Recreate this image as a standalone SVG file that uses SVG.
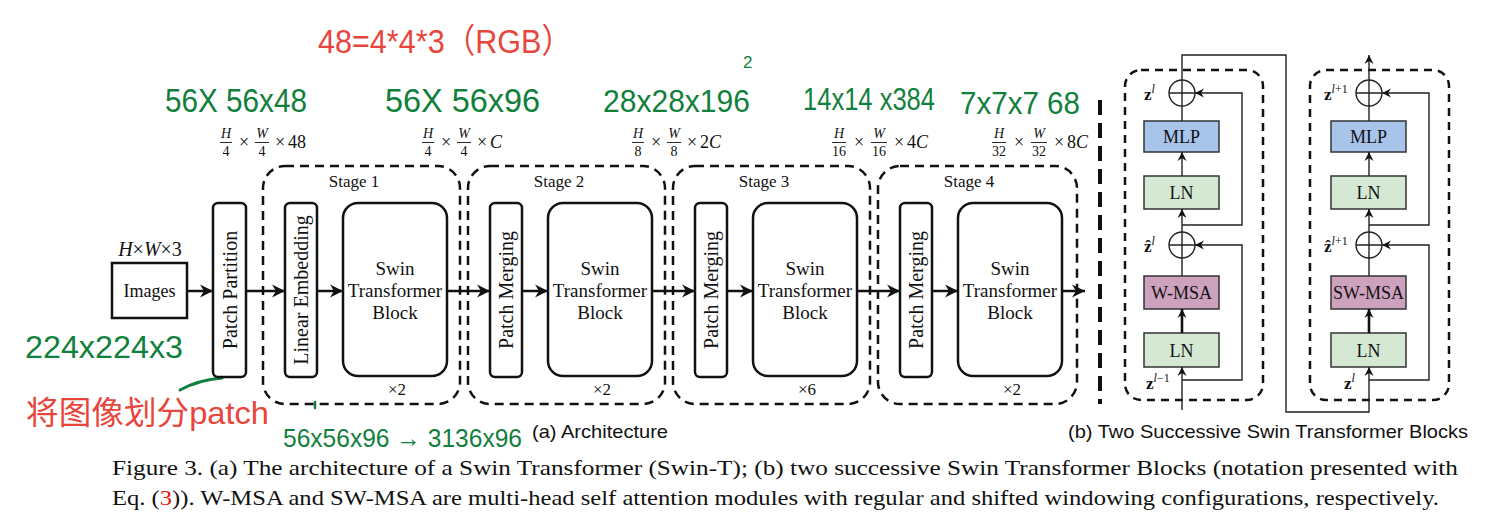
<svg xmlns="http://www.w3.org/2000/svg" width="1489" height="521" viewBox="0 0 1489 521">
<style>
.serif{font-family:"Liberation Serif","Times New Roman",serif;fill:#111}
.sans{font-family:"Liberation Sans",Arial,sans-serif;fill:#111}
.hw{font-family:"Liberation Sans",Arial,sans-serif;fill:#11803c}
.red{font-family:"Liberation Sans",Arial,"Noto Sans CJK SC",sans-serif;fill:#e8453c}
.box{fill:#fff;stroke:#111;stroke-width:2.5}
.stage{fill:none;stroke:#111;stroke-width:2.5;stroke-dasharray:9 6}
.blk{fill:none;stroke:#111;stroke-width:2.5;stroke-dasharray:8 6}
.ln{fill:#d5e8d4;stroke:#333;stroke-width:1.5}
.mlp{fill:#a9c4eb;stroke:#333;stroke-width:1.5}
.msa{fill:#cda2be;stroke:#333;stroke-width:1.5}
.big{fill:none;stroke:#111;stroke-width:2.5;marker-end:url(#ah)}
.thin{fill:none;stroke:#222;stroke-width:1.4}
.thinA{fill:none;stroke:#222;stroke-width:1.4;marker-end:url(#as)}
.thickA{fill:none;stroke:#111;stroke-width:2.6;marker-end:url(#as)}
.circ{fill:#fff;stroke:#222;stroke-width:1.4}
.t19{font-size:19px}
.t20{font-size:20px}
.fn{font-size:14px}
.fm{font-size:18px}
.fb{stroke:#111;stroke-width:0.9}
</style>
<defs>
<marker id="ah" markerUnits="userSpaceOnUse" viewBox="-13 -7 13 14" refX="0" refY="0" markerWidth="13" markerHeight="14" orient="auto">
<path d="M0,0 L-13,-6.5 L-9,0 L-13,6.5 Z" fill="#111"/>
</marker>
<marker id="as" markerUnits="userSpaceOnUse" viewBox="-9 -5 9 10" refX="0" refY="0" markerWidth="9" markerHeight="10" orient="auto">
<path d="M0,0 L-9,-4.5 L-6,0 L-9,4.5 Z" fill="#111"/>
</marker>
</defs>

<!-- annotations (red) -->
<text class="red" x="318" y="53" font-size="34" textLength="254" lengthAdjust="spacingAndGlyphs">48=4*4*3（RGB）</text>
<text class="red" x="26" y="424" font-size="32" textLength="243" lengthAdjust="spacingAndGlyphs">将图像划分patch</text>

<!-- handwritten annotations (green) -->
<g id="handwriting">
<text class="hw" x="165" y="112" font-size="33" textLength="142" lengthAdjust="spacingAndGlyphs">56X 56x48</text>
<text class="hw" x="385" y="112" font-size="33" textLength="155" lengthAdjust="spacingAndGlyphs">56X 56x96</text>
<text class="hw" x="603" y="112" font-size="31" textLength="147" lengthAdjust="spacingAndGlyphs">28x28x196</text>
<text class="hw" x="743" y="68" font-size="17">2</text>
<text class="hw" x="803" y="110" font-size="32" textLength="132" lengthAdjust="spacingAndGlyphs">14x14 x384</text>
<text class="hw" x="960" y="114" font-size="32" textLength="120" lengthAdjust="spacingAndGlyphs">7x7x7 68</text>
<text class="hw" x="25" y="358" font-size="31" textLength="158" lengthAdjust="spacingAndGlyphs">224x224x3</text>
<text class="hw" x="283" y="447" font-size="26" textLength="239" lengthAdjust="spacingAndGlyphs">56x56x96 → 3136x96</text>
<path d="M180,390 Q198,380 222,378" fill="none" stroke="#11803c" stroke-width="3" stroke-linecap="round"/>
<path d="M315,402 L315,408" fill="none" stroke="#11803c" stroke-width="2.5" stroke-linecap="round"/>
<circle cx="497" cy="345" r="1.3" fill="#11803c"/>
</g>

<!-- dimension labels -->
<g id="dims" class="serif">
<g transform="translate(226,0)">
<text class="fn" x="0" y="138" text-anchor="middle" font-style="italic">H</text>
<line class="fb" x1="-6" y1="142.5" x2="6" y2="142.5"/>
<text class="fn" x="0" y="156" text-anchor="middle">4</text>
<text class="fm" x="18" y="148" text-anchor="middle">×</text>
<text class="fn" x="36" y="138" text-anchor="middle" font-style="italic">W</text>
<line class="fb" x1="29" y1="142.5" x2="43" y2="142.5"/>
<text class="fn" x="36" y="156" text-anchor="middle">4</text>
<text class="fm" x="54" y="148" text-anchor="middle">×</text>
<text class="fm" x="62" y="148">48</text>
</g>
<g transform="translate(428,0)">
<text class="fn" x="0" y="138" text-anchor="middle" font-style="italic">H</text>
<line class="fb" x1="-6" y1="142.5" x2="6" y2="142.5"/>
<text class="fn" x="0" y="156" text-anchor="middle">4</text>
<text class="fm" x="18" y="148" text-anchor="middle">×</text>
<text class="fn" x="36" y="138" text-anchor="middle" font-style="italic">W</text>
<line class="fb" x1="29" y1="142.5" x2="43" y2="142.5"/>
<text class="fn" x="36" y="156" text-anchor="middle">4</text>
<text class="fm" x="54" y="148" text-anchor="middle">×</text>
<text class="fm" x="62" y="148" font-style="italic">C</text>
</g>
<g transform="translate(638,0)">
<text class="fn" x="0" y="138" text-anchor="middle" font-style="italic">H</text>
<line class="fb" x1="-6" y1="142.5" x2="6" y2="142.5"/>
<text class="fn" x="0" y="156" text-anchor="middle">8</text>
<text class="fm" x="18" y="148" text-anchor="middle">×</text>
<text class="fn" x="36" y="138" text-anchor="middle" font-style="italic">W</text>
<line class="fb" x1="29" y1="142.5" x2="43" y2="142.5"/>
<text class="fn" x="36" y="156" text-anchor="middle">8</text>
<text class="fm" x="54" y="148" text-anchor="middle">×</text>
<text class="fm" x="62" y="148">2<tspan font-style="italic">C</tspan></text>
</g>
<g transform="translate(839,0)">
<text class="fn" x="0" y="138" text-anchor="middle" font-style="italic">H</text>
<line class="fb" x1="-7" y1="142.5" x2="7" y2="142.5"/>
<text class="fn" x="0" y="156" text-anchor="middle">16</text>
<text class="fm" x="20" y="148" text-anchor="middle">×</text>
<text class="fn" x="40" y="138" text-anchor="middle" font-style="italic">W</text>
<line class="fb" x1="32" y1="142.5" x2="48" y2="142.5"/>
<text class="fn" x="40" y="156" text-anchor="middle">16</text>
<text class="fm" x="60" y="148" text-anchor="middle">×</text>
<text class="fm" x="68" y="148">4<tspan font-style="italic">C</tspan></text>
</g>
<g transform="translate(999,0)">
<text class="fn" x="0" y="138" text-anchor="middle" font-style="italic">H</text>
<line class="fb" x1="-7" y1="142.5" x2="7" y2="142.5"/>
<text class="fn" x="0" y="156" text-anchor="middle">32</text>
<text class="fm" x="20" y="148" text-anchor="middle">×</text>
<text class="fn" x="40" y="138" text-anchor="middle" font-style="italic">W</text>
<line class="fb" x1="32" y1="142.5" x2="48" y2="142.5"/>
<text class="fn" x="40" y="156" text-anchor="middle">32</text>
<text class="fm" x="60" y="148" text-anchor="middle">×</text>
<text class="fm" x="68" y="148">8<tspan font-style="italic">C</tspan></text>
</g>
</g>

<!-- nodes (a) -->
<g id="images">
<text class="serif" x="150" y="256" font-size="20" text-anchor="middle"><tspan font-style="italic">H</tspan>×<tspan font-style="italic">W</tspan>×3</text>
<rect class="box" x="112" y="263" width="75" height="55"/>
<text class="serif" x="149.5" y="297" font-size="18" text-anchor="middle">Images</text>
</g>
<g id="patch-partition">
<rect class="box" x="213" y="203" width="33" height="174" rx="5"/>
<text class="serif t20" transform="translate(230,290) rotate(-90)" text-anchor="middle" dy="0.33em">Patch Partition</text>
</g>

<g id="stage1">
<rect class="stage" x="263" y="166" width="197" height="238" rx="22"/>
<text class="serif" x="354" y="187" font-size="17" text-anchor="middle">Stage 1</text>
<text class="serif" x="397" y="395" font-size="17" text-anchor="middle">×2</text>
</g>
<g id="linear-embedding">
<rect class="box" x="285" y="203" width="32" height="174" rx="5"/>
<text class="serif t20" transform="translate(301,290) rotate(-90)" text-anchor="middle" dy="0.33em">Linear Embedding</text>
</g>
<g id="swin1">
<rect class="box" x="343" y="203" width="104" height="173" rx="15"/>
<text class="serif t19" x="395" y="275" text-anchor="middle">Swin</text>
<text class="serif t19" x="395" y="297" text-anchor="middle">Transformer</text>
<text class="serif t19" x="395" y="319" text-anchor="middle">Block</text>
</g>

<g id="stage2">
<rect class="stage" x="468" y="166" width="197" height="238" rx="22"/>
<text class="serif" x="559" y="187" font-size="17" text-anchor="middle">Stage 2</text>
<text class="serif" x="602" y="395" font-size="17" text-anchor="middle">×2</text>
</g>
<g id="patch-merging2">
<rect class="box" x="490" y="203" width="32" height="174" rx="5"/>
<text class="serif t20" transform="translate(506,290) rotate(-90)" text-anchor="middle" dy="0.33em">Patch Merging</text>
</g>
<g id="swin2">
<rect class="box" x="548" y="203" width="104" height="173" rx="15"/>
<text class="serif t19" x="600" y="275" text-anchor="middle">Swin</text>
<text class="serif t19" x="600" y="297" text-anchor="middle">Transformer</text>
<text class="serif t19" x="600" y="319" text-anchor="middle">Block</text>
</g>

<g id="stage3">
<rect class="stage" x="673" y="166" width="197" height="238" rx="22"/>
<text class="serif" x="764" y="187" font-size="17" text-anchor="middle">Stage 3</text>
<text class="serif" x="807" y="395" font-size="17" text-anchor="middle">×6</text>
</g>
<g id="patch-merging3">
<rect class="box" x="695" y="203" width="32" height="174" rx="5"/>
<text class="serif t20" transform="translate(711,290) rotate(-90)" text-anchor="middle" dy="0.33em">Patch Merging</text>
</g>
<g id="swin3">
<rect class="box" x="753" y="203" width="104" height="173" rx="15"/>
<text class="serif t19" x="805" y="275" text-anchor="middle">Swin</text>
<text class="serif t19" x="805" y="297" text-anchor="middle">Transformer</text>
<text class="serif t19" x="805" y="319" text-anchor="middle">Block</text>
</g>

<g id="stage4">
<rect class="stage" x="878" y="166" width="199" height="238" rx="22"/>
<text class="serif" x="969" y="187" font-size="17" text-anchor="middle">Stage 4</text>
<text class="serif" x="1012" y="395" font-size="17" text-anchor="middle">×2</text>
</g>
<g id="patch-merging4">
<rect class="box" x="900" y="203" width="32" height="174" rx="5"/>
<text class="serif t20" transform="translate(916,290) rotate(-90)" text-anchor="middle" dy="0.33em">Patch Merging</text>
</g>
<g id="swin4">
<rect class="box" x="958" y="203" width="104" height="173" rx="15"/>
<text class="serif t19" x="1010" y="275" text-anchor="middle">Swin</text>
<text class="serif t19" x="1010" y="297" text-anchor="middle">Transformer</text>
<text class="serif t19" x="1010" y="319" text-anchor="middle">Block</text>
</g>

<!-- separator -->
<line x1="1100" y1="100" x2="1100" y2="404" stroke="#111" stroke-width="4" stroke-dasharray="15 8"/>

<!-- (b) blocks -->
<g id="block1">
<rect class="blk" x="1125" y="70" width="138" height="330" rx="16"/>
<rect class="mlp" x="1144" y="121" width="75" height="31"/>
<text class="serif" x="1181.5" y="143" font-size="18" text-anchor="middle">MLP</text>
<rect class="ln" x="1144" y="176" width="75" height="33"/>
<text class="serif" x="1181.5" y="199" font-size="18" text-anchor="middle">LN</text>
<rect class="msa" x="1144" y="276" width="75" height="33"/>
<text class="serif" x="1181.5" y="299" font-size="18" text-anchor="middle">W-MSA</text>
<rect class="ln" x="1144" y="333" width="75" height="34"/>
<text class="serif" x="1181.5" y="357" font-size="18" text-anchor="middle">LN</text>
</g>
<g id="block2">
<rect class="blk" x="1310" y="70" width="139" height="330" rx="16"/>
<rect class="mlp" x="1331" y="121" width="75" height="31"/>
<text class="serif" x="1368.5" y="143" font-size="18" text-anchor="middle">MLP</text>
<rect class="ln" x="1331" y="176" width="75" height="33"/>
<text class="serif" x="1368.5" y="199" font-size="18" text-anchor="middle">LN</text>
<rect class="msa" x="1331" y="276" width="75" height="33"/>
<text class="serif" x="1368.5" y="299" font-size="18" text-anchor="middle">SW-MSA</text>
<rect class="ln" x="1331" y="333" width="75" height="34"/>
<text class="serif" x="1368.5" y="357" font-size="18" text-anchor="middle">LN</text>
</g>

<!-- connectors -->
<g id="connectors">
<line class="big" x1="187" y1="291" x2="213" y2="291"/>
<line class="big" x1="246" y1="291" x2="285" y2="291"/>
<line class="big" x1="317" y1="291" x2="343" y2="291"/>
<line class="big" x1="447" y1="291" x2="490" y2="291"/>
<line class="big" x1="522" y1="291" x2="548" y2="291"/>
<line class="big" x1="652" y1="291" x2="695" y2="291"/>
<line class="big" x1="727" y1="291" x2="753" y2="291"/>
<line class="big" x1="857" y1="291" x2="900" y2="291"/>
<line class="big" x1="932" y1="291" x2="958" y2="291"/>
<line class="big" x1="1062" y1="291" x2="1085" y2="291"/>

<!-- block 1 -->
<line class="thinA" x1="1182" y1="410" x2="1182" y2="367"/>
<polyline class="thinA" points="1182,380 1242,380 1242,245 1195,245"/>
<line class="thickA" x1="1182" y1="333" x2="1182" y2="309"/>
<line class="thin" x1="1182" y1="276" x2="1182" y2="258"/>
<line class="thinA" x1="1182" y1="232" x2="1182" y2="209"/>
<polyline class="thinA" points="1182,225 1242,225 1242,93 1195,93"/>
<line class="thinA" x1="1182" y1="176" x2="1182" y2="152"/>
<line class="thin" x1="1182" y1="121" x2="1182" y2="106"/>
<polyline class="thinA" points="1182,80 1182,55 1286,55 1286,412 1369,412 1369,367"/>
<circle class="circ" cx="1182" cy="245" r="13"/>
<path class="thin" d="M1169,245 H1195 M1182,232 V258"/>
<circle class="circ" cx="1182" cy="93" r="13"/>
<path class="thin" d="M1169,93 H1195 M1182,80 V106"/>

<!-- block 2 -->
<polyline class="thinA" points="1369,380 1429,380 1429,245 1382,245"/>
<line class="thickA" x1="1369" y1="333" x2="1369" y2="309"/>
<line class="thin" x1="1369" y1="276" x2="1369" y2="258"/>
<line class="thinA" x1="1369" y1="232" x2="1369" y2="209"/>
<polyline class="thinA" points="1369,225 1429,225 1429,93 1382,93"/>
<line class="thinA" x1="1369" y1="176" x2="1369" y2="152"/>
<line class="thin" x1="1369" y1="121" x2="1369" y2="106"/>
<line class="thinA" x1="1369" y1="80" x2="1369" y2="55"/>
<circle class="circ" cx="1369" cy="245" r="13"/>
<path class="thin" d="M1356,245 H1382 M1369,232 V258"/>
<circle class="circ" cx="1369" cy="93" r="13"/>
<path class="thin" d="M1356,93 H1382 M1369,80 V106"/>
</g>

<!-- math labels -->
<g id="zlabels" class="serif">
<text x="1144" y="100" font-size="17" font-weight="bold">z<tspan font-size="12" font-weight="normal" font-style="italic" dy="-7">l</tspan></text>
<text x="1144" y="252" font-size="17" font-weight="bold">ẑ<tspan font-size="12" font-weight="normal" font-style="italic" dy="-7">l</tspan></text>
<text x="1146" y="389" font-size="17" font-weight="bold">z<tspan font-size="12" font-weight="normal" font-style="italic" dy="-7">l</tspan><tspan font-size="12" font-weight="normal" dy="0">−1</tspan></text>
<text x="1324" y="100" font-size="17" font-weight="bold">z<tspan font-size="12" font-weight="normal" font-style="italic" dy="-7">l</tspan><tspan font-size="12" font-weight="normal" dy="0">+1</tspan></text>
<text x="1324" y="252" font-size="17" font-weight="bold">ẑ<tspan font-size="12" font-weight="normal" font-style="italic" dy="-7">l</tspan><tspan font-size="12" font-weight="normal" dy="0">+1</tspan></text>
<text x="1344" y="389" font-size="17" font-weight="bold">z<tspan font-size="12" font-weight="normal" font-style="italic" dy="-7">l</tspan></text>
</g>

<!-- captions -->
<text class="sans" x="532" y="438" font-size="19" textLength="136" lengthAdjust="spacingAndGlyphs">(a) Architecture</text>
<text class="sans" x="1068" y="438" font-size="19" textLength="400" lengthAdjust="spacingAndGlyphs">(b) Two Successive Swin Transformer Blocks</text>
<text class="serif" x="112" y="475" font-size="21" textLength="1346" lengthAdjust="spacingAndGlyphs">Figure 3. (a) The architecture of a Swin Transformer (Swin-T); (b) two successive Swin Transformer Blocks (notation presented with</text>
<text class="serif" x="112" y="505" font-size="21" textLength="1327" lengthAdjust="spacingAndGlyphs">Eq. (<tspan fill="#e8150f">3</tspan>)). W-MSA and SW-MSA are multi-head self attention modules with regular and shifted windowing configurations, respectively.</text>
</svg>
